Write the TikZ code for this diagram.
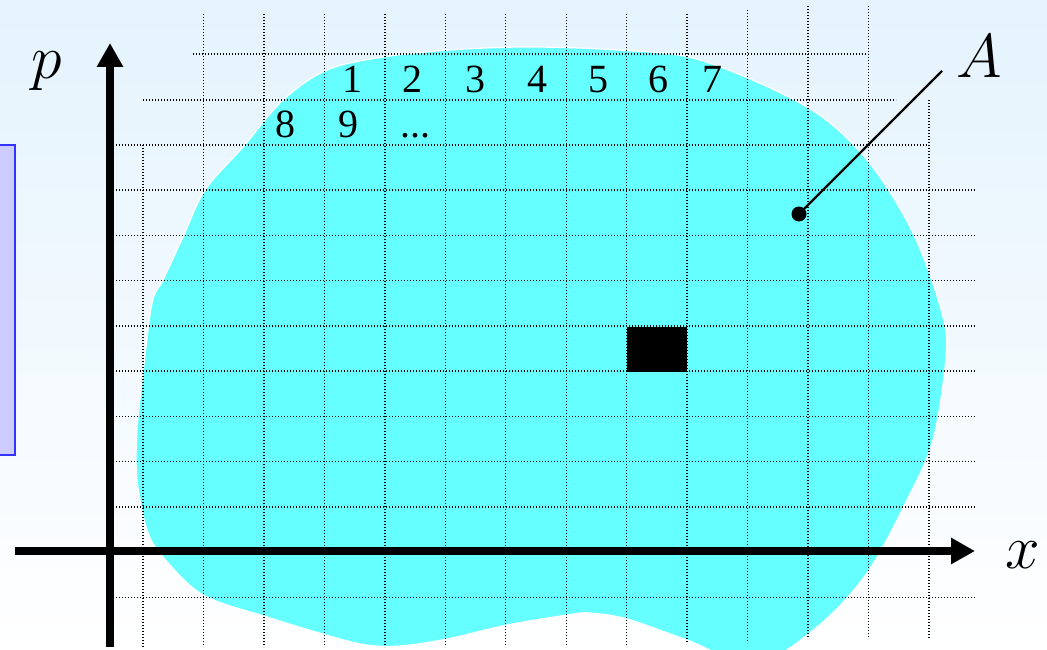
\documentclass[tikz,border=0pt]{standalone}
\usepackage{fix-cm}
\usepackage{fontspec}
\setmainfont{Liberation Serif}
\usetikzlibrary{arrows.meta}
\DeclareMathSizes{62}{62}{44}{32}
\definecolor{bgtop}{RGB}{228,243,253}
\definecolor{boxfill}{RGB}{204,204,255}
\definecolor{boxline}{RGB}{51,51,255}
\definecolor{blob}{RGB}{102,255,255}
\tikzset{
  gridline/.style={black,line width=1.4pt,dash pattern=on 1.3pt off 1.7pt},
  axisline/.style={black,line width=8pt,-{Triangle[length=24pt,width=25pt]}},
  num/.style={anchor=base,inner sep=0pt,font=\fontsize{40}{48}\selectfont},
  letter/.style={anchor=base,inner sep=0pt,font=\fontsize{62}{72}\selectfont},
}
\begin{document}
\begin{tikzpicture}[x=1pt,y=-1pt]
\useasboundingbox (0,0) rectangle (1047,650);
\clip (0,0) rectangle (1047,650);
% background
\shade[top color=bgtop,bottom color=white] (0,0) rectangle (1047,650);
% left box (cut off)
\draw[fill=boxfill,draw=boxline,line width=1.5pt] (-5,145) rectangle (15,455);
% region A
\draw[fill=blob,draw=white,line width=1.2pt] plot[smooth cycle,tension=0.55] coordinates {
 (450,50) (527,47) (617,50) (700,60) (807,107) (867,160) (913,233) (942,313)
 (946,357) (933,440) (907,500) (867,573) (817,627) (755,664) (687,640)
 (627,619) (590,613) (567,615) (507,625) (447,639) (400,646) (367,645)
 (333,637) (267,617) (203,595) (163,557) (147,530) (137,480) (137,430)
 (143,373) (152,303) (163,280) (183,237) (205,190) (243,147) (283,100)
 (327,70) (383,57)};
% grid: vertical lines
\foreach \k/\t/\b in {0/145/647,1/14/647,2/14/647,3/14/647,4/14/647,5/14/647,
  6/14/647,7/14/647,8/14/647,9/14/643,10/10/643,11/6/639,12/6/639,13/100/639}
  \draw[gridline] ({143+60.46*\k},\t) -- ({143+60.46*\k},\b);
% grid: horizontal lines
\draw[gridline] (193,54) -- (868,54);
\draw[gridline] (143,100) -- (896,100);
\draw[gridline] (116,145) -- (927,145);
\foreach \j in {3,...,10,12}
  \draw[gridline] (116,{54+45.3*\j}) -- (976,{54+45.3*\j});
% filled cell
\fill[black] (627,327) rectangle (687,372);
% axes
\coordinate (ybot) at (110,647);
\coordinate (ytop) at (110,43);
\coordinate (xleft) at (15,551);
\coordinate (xright) at (975,551);
\draw[axisline] (ybot) -- (ytop);
\draw[axisline] (xleft) -- (xright);
% labels
\node[letter] (p) at (47,79) {$p$};
\node[letter] (xl) at (1023,568) {$x$};
\node[letter] (A) at (979,78) {$A$};
% cell numbers
\node[num] (n1) at (352,93) {1};
\node[num] (n2) at (412,93) {2};
\node[num] (n3) at (475,93) {3};
\node[num] (n4) at (537,93) {4};
\node[num] (n5) at (598,93) {5};
\node[num] (n6) at (658,93) {6};
\node[num] (n7) at (712,93) {7};
\node[num] (n8) at (285,138) {8};
\node[num] (n9) at (348,138) {9};
\node[num] (ndots) at (415,138) {...};
% leader to A
\node[circle,fill=black,inner sep=0pt,minimum size=15pt] (dot) at (799,214) {};
\coordinate (Aend) at (942,71);
\draw[black,line width=2.2pt] (Aend) -- (dot.center);
\end{tikzpicture}
\end{document}
